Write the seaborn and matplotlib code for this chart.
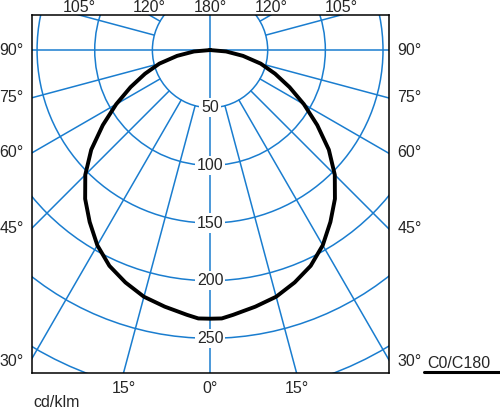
import numpy as np
import pandas as pd
import matplotlib.pyplot as plt
import seaborn as sns
from matplotlib.patches import Circle
from matplotlib.lines import Line2D

# Luminous intensity distribution, C0/C180 plane (symmetric), cd/klm
angles = [0, 2.5, 5, 7.5, 10, 15, 20, 25, 30, 35, 40, 45, 50, 55, 60, 65, 70, 75, 80, 85, 90]
intensity = [233, 233, 230.5, 228, 226, 221.5, 214.5, 206.5, 195.5, 182, 168.5,
             153, 134.5, 113.5, 94, 76, 60, 45.5, 29, 14, 0]

ring_values = [50, 100, 150, 200, 250, 300]
ring_labels = ["50", "100", "150", "200", "250"]
spoke_angles = [15, 30, 45, 60, 75, 105, 120, 135, 150, 165]
side_labels = [30, 45, 60, 75, 90]
top_labels = [105, 120]
bottom_labels = [15]

blue = "#1a7dcf"

sns.set_style("white")
plt.rcParams['font.family'] = ['Liberation Sans', 'DejaVu Sans']
plt.rcParams['font.size'] = 11.5

fig = plt.figure(figsize=(5, 4.09), dpi=100)
ax = fig.add_axes([0.064, 0.088, 0.714, 0.8753])

xmin, xmax = -154.4, 155.2
ytop, ybot = -30.4, 280.1
ax.set_xlim(xmin, xmax)
ax.set_ylim(ybot, ytop)

# --- grid: rings, spokes, axes lines ---
for r in ring_values:
    ax.add_patch(Circle((0, 0), r, fill=False, color=blue, lw=1.1, zorder=1))
for a in spoke_angles:
    t = np.radians(a)
    for s in (-1, 1):
        ax.plot([s * 50 * np.sin(t), s * 500 * np.sin(t)],
                [50 * np.cos(t), 500 * np.cos(t)], color=blue, lw=1.1, zorder=1)
ax.plot([0, 0], [ytop - 10, ybot + 10], color=blue, lw=1.1, zorder=1)
ax.plot([xmin - 10, xmax + 10], [0, 0], color=blue, lw=1.1, zorder=1)

for r, lab in zip(ring_values, ring_labels):
    ax.text(0, r, lab, ha="center", va="center", zorder=3,
            bbox=dict(facecolor="white", edgecolor="none", pad=1.5))

# --- the distribution curve ---
th = np.radians(np.concatenate([-np.array(angles[::-1]), np.array(angles[1:])]))
rr = np.concatenate([np.array(intensity[::-1]), np.array(intensity[1:])])
curve = pd.DataFrame({"x": rr * np.sin(th), "y": rr * np.cos(th)})
sns.lineplot(data=curve, x="x", y="y", sort=False, estimator=None,
             color="black", lw=2.8, ax=ax, zorder=4)

ax.set_xticks([])
ax.set_yticks([])
ax.set_xlabel("")
ax.set_ylabel("")
for sp in ax.spines.values():
    sp.set_color("black")
    sp.set_linewidth(1.1)

# --- angle labels around the frame ---
for a in side_labels:
    y = -xmin / np.tan(np.radians(a)) if a < 90 else 0
    if a == 30:
        y += 2.5
    ax.annotate(f"{a}°", (xmin, y), xytext=(-6, 0), textcoords="offset points",
                ha="right", va="center", annotation_clip=False)
    ax.annotate(f"{a}°", (xmax, y), xytext=(6, 0), textcoords="offset points",
                ha="left", va="center", annotation_clip=False)
for a in top_labels:
    x = ytop / np.cos(np.radians(a)) * np.sin(np.radians(a))
    for s in (-1, 1):
        ax.annotate(f"{a}°", (s * x, ytop), xytext=(0, 2.5), textcoords="offset points",
                    ha="center", va="baseline", annotation_clip=False)
ax.annotate("180°", (0, ytop), xytext=(0, 2.5), textcoords="offset points",
            ha="center", va="baseline", annotation_clip=False)
for a in bottom_labels:
    x = ybot * np.tan(np.radians(a))
    for s in (-1, 1):
        ax.annotate(f"{a}°", (s * x, ybot), xytext=(0, -14.5), textcoords="offset points",
                    ha="center", va="baseline", annotation_clip=False)
ax.annotate("0°", (0, ybot), xytext=(0, -14.5), textcoords="offset points",
            ha="center", va="baseline", annotation_clip=False)

fig.text(33 / 500, 1 - 407 / 409, "cd/klm", ha="left", va="baseline")
fig.text(427 / 500, 1 - 368 / 409, "C0/C180", ha="left", va="baseline")
fig.add_artist(Line2D([424 / 500, 1.0], [1 - 372 / 409, 1 - 372 / 409],
                      color="black", lw=2.2))

fig.savefig("out.png", dpi=100)
